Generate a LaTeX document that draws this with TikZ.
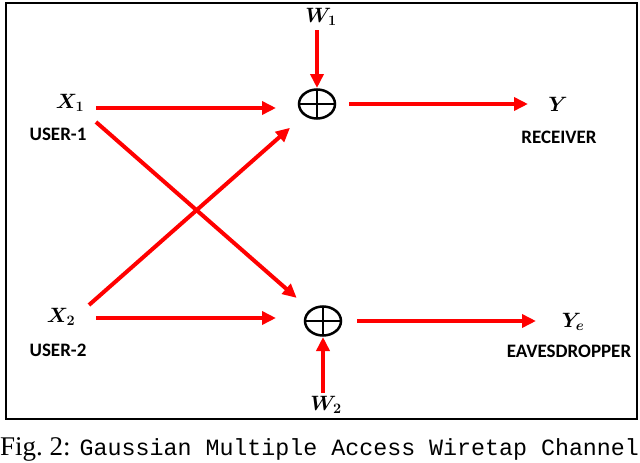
\documentclass[tikz,border=0pt]{standalone}
\usepackage{fontspec}
\setsansfont{Carlito}
\newfontfamily\capserif{Liberation Serif}
\newfontfamily\capmono{Liberation Mono}
\usetikzlibrary{arrows.meta,shapes.geometric}

\begin{document}
\begin{tikzpicture}[x=1pt,y=-1pt,
    sig/.style={draw=red, line width=4pt, -{Triangle[length=14pt,width=13pt]}},
    adder/.style={ellipse, draw=black, line width=2.5pt, minimum width=36pt,
      minimum height=29pt, inner sep=0pt,
      path picture={\draw[line width=2.5pt]
        (path picture bounding box.north) -- (path picture bounding box.south)
        (path picture bounding box.west) -- (path picture bounding box.east);}},
    var/.style={font=\fontsize{21}{24}\selectfont\boldmath, inner sep=1pt},
    role/.style={font=\fontsize{19}{22}\selectfont\sffamily\bfseries, inner sep=1pt}]
  \useasboundingbox (0,0) rectangle (640,463);
  \draw[line width=2pt] (6,3) rectangle (637,419);

  % users
  \node[var]  (x1)    at (70,103) {$X_1$};
  \node[role] (user1) at (58,134) {USER-1};
  \node[var]  (x2)    at (61,317) {$X_2$};
  \node[role] (user2) at (58,350) {USER-2};

  % adders and noise
  \node[adder] (sum1) at (317,104) {};
  \node[adder] (sum2) at (323,321) {};
  \node[var] (w1) at (321,17)  {$W_1$};
  \node[var] (w2) at (326,405) {$W_2$};

  % outputs
  \node[var]  (y)   at (558,104) {$Y$};
  \node[role] (rx)  at (559,137) {RECEIVER};
  \node[var]  (ye)  at (573,322) {$Y_e$};
  \node[role] (eve) at (569,351) {EAVESDROPPER};

  % tails of the input arrows
  \coordinate (t1) at (96,108);
  \coordinate (t2) at (96,318);
  \coordinate (t3) at (96,122);
  \coordinate (t4) at (89,305);

  \draw[sig, shorten >=41pt] (t1) -- (t1 -| sum1);
  \draw[sig, shorten >=47pt] (t2) -- (t2 -| sum2);
  \draw[sig, shorten >=35pt] (t3) -- (sum2.center);
  \draw[sig, shorten >=36pt] (t4) -- (sum1.center);
  \draw[sig, shorten <=13pt, shorten >=16pt] (sum1 |- w1) -- (sum1.center);
  \draw[sig, shorten <=12pt, shorten >=16pt] (sum2 |- w2) -- (sum2.center);
  \draw[sig, shorten <=32pt, shorten >=30pt] (sum1.center) -- (sum1 -| y);
  \draw[sig, shorten <=34pt, shorten >=37pt] (sum2.center) -- (sum2 -| ye);

  \node[anchor=base west, inner sep=0pt] (cap) at (0,455)
    {{\capserif\fontsize{27}{30}\selectfont Fig.~2: }\capmono\fontsize{23.3}{26}\selectfont Gaussian Multiple Access Wiretap Channel};
\end{tikzpicture}
\end{document}
